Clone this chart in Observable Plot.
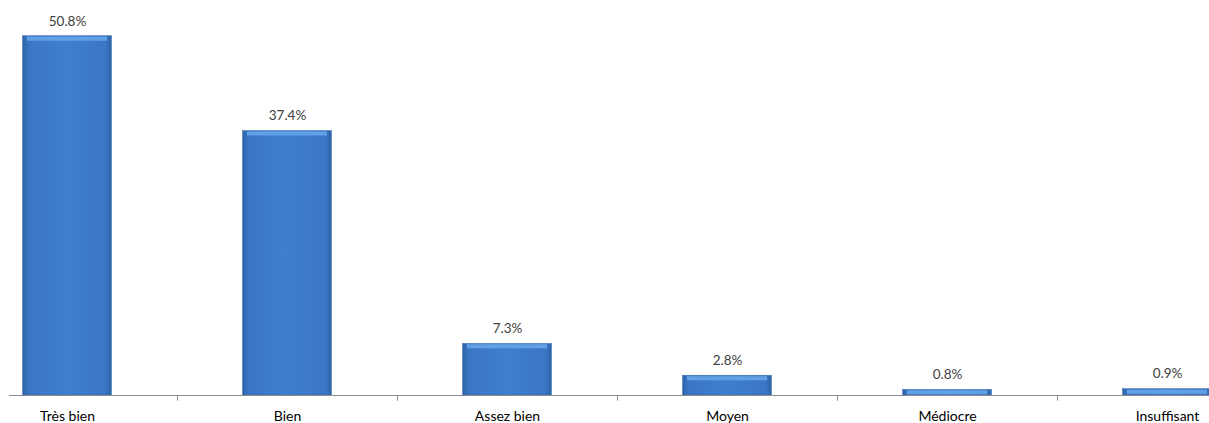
<!DOCTYPE html>
<html>
<head>
<meta charset="utf-8">
<script src="https://cdn.jsdelivr.net/npm/d3@7"></script>
<script src="https://cdn.jsdelivr.net/npm/@observablehq/plot@0.6"></script>
<style>
  html, body { margin: 0; padding: 0; background: #fff; }
  #chart svg { display: block; overflow: hidden; }
</style>
</head>
<body>
<div id="chart"></div>
<script>
const categories = ["Très bien", "Bien", "Assez bien", "Moyen", "Médiocre", "Insuffisant"];
const values = [50.8, 37.4, 7.3, 2.8, 0.8, 0.9];
const valueLabels = ["50.8%", "37.4%", "7.3%", "2.8%", "0.8%", "0.9%"];

const data = categories.map((c, i) => ({cat: c, value: values[i], label: valueLabels[i]}));

const font = "Lato, 'Open Sans', sans-serif";

const plot = Plot.plot({
  width: 1209,
  height: 423,
  marginTop: 6,
  marginBottom: 28,
  marginLeft: 9,
  marginRight: 0,
  style: {fontFamily: font, background: "#fff"},
  x: {domain: categories, range: [-43, 1277], padding: 0},
  y: {domain: [0, 55], axis: null},
  marks: [
    Plot.barY(data, {x: "cat", y: "value", fill: "url(#barGrad)", insetLeft: 65.5, insetRight: 65.5, stroke: "#3a6fb0", strokeWidth: 0.5}),
    Plot.tickY(data, {x: "cat", y: "value", stroke: "#62a0e6", strokeWidth: 4, dy: 2.5, insetLeft: 70, insetRight: 70}),
    Plot.ruleY([0], {stroke: "#8c8c8c", strokeWidth: 1}),
    Plot.ruleX(categories.slice(0, -1), {x: d => d, dx: 110, y1: 0, y2: -0.8, stroke: "#8c8c8c"}),
    Plot.text(data, {x: "cat", y: "value", text: "label", dy: -15, fontSize: 13.5, fill: "#404040"}),
    Plot.axisX({tickSize: 0, tickPadding: 16, fontSize: 14, color: "#000", label: null})
  ]
});

const svg = d3.select(plot);
const defs = svg.insert("defs", ":first-child");
const g = defs.append("linearGradient").attr("id", "barGrad").attr("x1", "0").attr("x2", "1").attr("y1", "0").attr("y2", "0");
g.append("stop").attr("offset", "0").attr("stop-color", "#2f63a8");
g.append("stop").attr("offset", "0.07").attr("stop-color", "#3a76c4");
g.append("stop").attr("offset", "0.5").attr("stop-color", "#3f7fce");
g.append("stop").attr("offset", "0.93").attr("stop-color", "#3a76c4");
g.append("stop").attr("offset", "1").attr("stop-color", "#2f63a8");

document.getElementById("chart").appendChild(plot);
</script>
</body>
</html>
